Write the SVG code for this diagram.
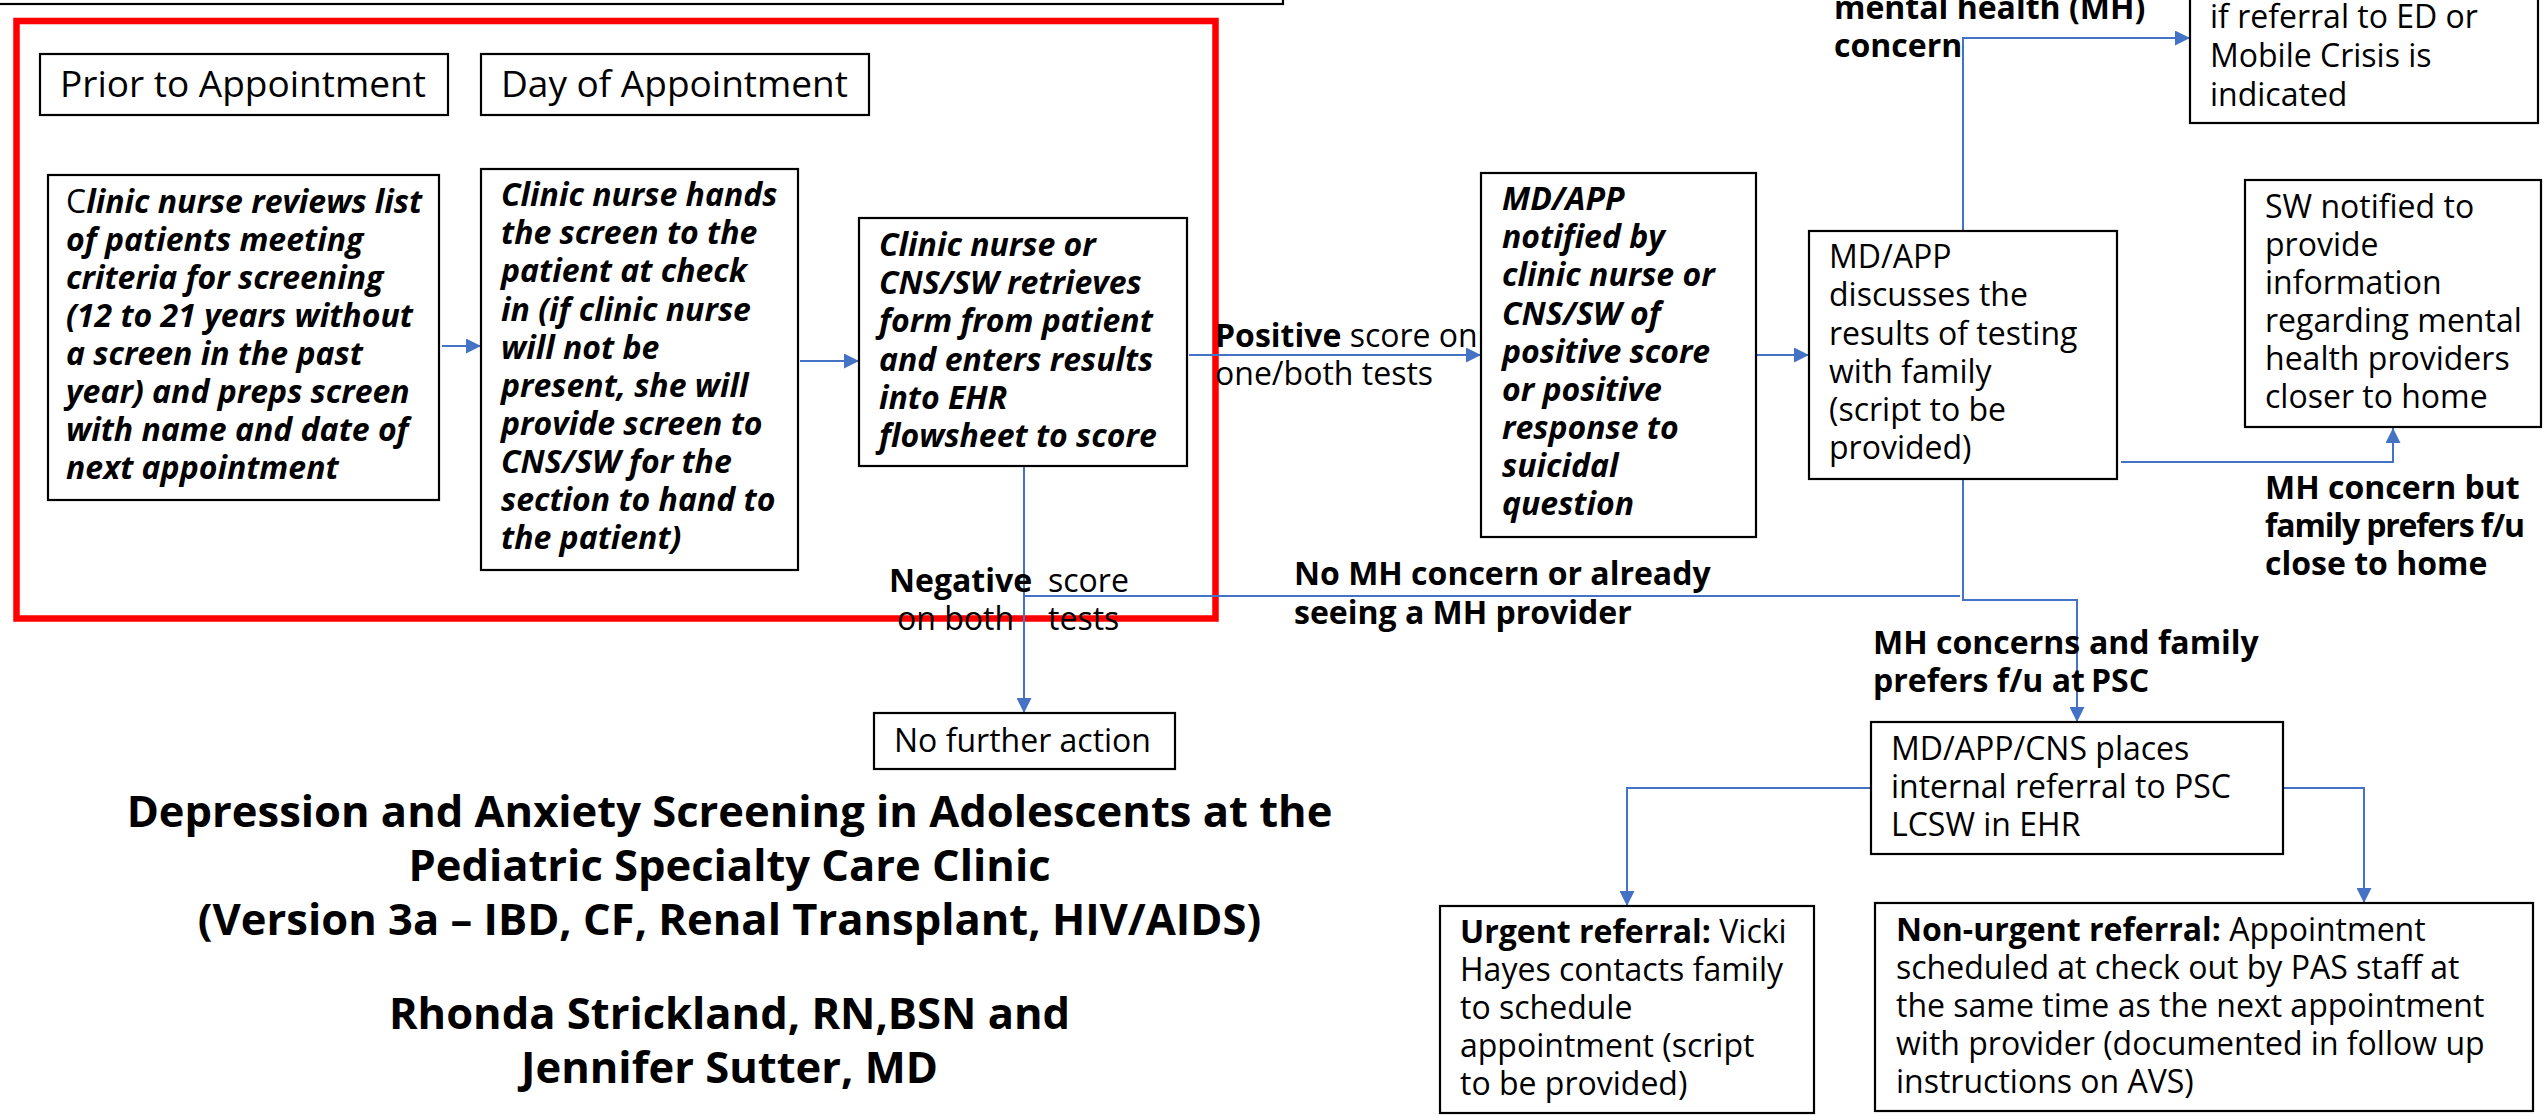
<svg xmlns="http://www.w3.org/2000/svg" width="2547" height="1116" viewBox="0 0 2547 1116">
  <style>
    .box { fill: #fff; stroke: #000; stroke-width: 2.2; }
    .conn { fill: none; stroke: #4472C4; stroke-width: 2; }
    .frame { fill: none; stroke: #FF0000; stroke-width: 6.5; }
    text { font-family: "Open Sans", "Noto Sans", sans-serif; font-size: 32px; fill: #000; }
    .bi { font-weight: bold; font-style: italic; }
    .b { font-weight: bold; }
    .r { font-weight: normal; font-style: normal; }
    .hdr { font-size: 37px; }
    .title { font-size: 43.5px; font-weight: bold; text-anchor: middle; }
  </style>
  <defs>
    <marker id="arrow" markerUnits="userSpaceOnUse" markerWidth="15" markerHeight="15" viewBox="0 0 15 15" refX="15" refY="7.5" orient="auto">
      <path d="M0,0 L15,7.5 L0,15 z" fill="#4472C4"/>
    </marker>
  </defs>

  <rect x="0" y="0" width="2547" height="1116" fill="#fff"/>

  <!-- box running off the top edge -->
  <rect class="box" x="-10" y="-60" width="1293" height="64"/>

  <!-- red outline around the pre-visit steps -->
  <rect class="frame" x="16.5" y="21" width="1199" height="597.5"/>

  <!-- connectors -->
  <g id="connectors">
    <path class="conn" d="M442,346 H481" marker-end="url(#arrow)"/>
    <path class="conn" d="M800,361 H859" marker-end="url(#arrow)"/>
    <path class="conn" d="M1189,355 H1481" marker-end="url(#arrow)"/>
    <path class="conn" d="M1756,355 H1809" marker-end="url(#arrow)"/>
    <path class="conn" d="M1963,231 V38 H2190" marker-end="url(#arrow)"/>
    <path class="conn" d="M2121,462 H2393 V428" marker-end="url(#arrow)"/>
    <path class="conn" d="M1024,466 V713" marker-end="url(#arrow)"/>
    <path class="conn" d="M1960,596 H1024"/>
    <path class="conn" d="M1963,479 V600 H2077 V722" marker-end="url(#arrow)"/>
    <path class="conn" d="M1871,788 H1627 V906" marker-end="url(#arrow)"/>
    <path class="conn" d="M2283,788 H2364 V903" marker-end="url(#arrow)"/>
  </g>

  <!-- connector labels -->
  <g id="labels">
    <text x="1215" y="347"><tspan class="b">Positive</tspan> score on</text>
    <text x="1215" y="385">one/both tests</text>
    <text class="b" x="1834" y="19">mental health (MH)</text>
    <text class="b" x="1834" y="57">concern</text>
    <text class="b" x="2265" y="499">MH concern but</text>
    <text class="b" x="2265" y="537" textLength="260" lengthAdjust="spacing">family prefers f/u</text>
    <text class="b" x="2265" y="575">close to home</text>
    <text class="b" x="889" y="592">Negative</text>
    <text x="1048" y="592">score</text>
    <text x="897" y="630">on both</text>
    <text x="1048" y="630">tests</text>
    <text class="b" x="1294" y="585">No MH concern or already</text>
    <text class="b" x="1294" y="624">seeing a MH provider</text>
    <text class="b" x="1873" y="654">MH concerns</text>
    <text class="b" x="2089" y="654">and family</text>
    <text class="b" x="1873" y="692">prefers f/u at</text>
    <text class="b" x="2091" y="692">PSC</text>
  </g>

  <g id="prior-header">
    <rect class="box" x="40" y="54" width="408" height="61"/>
    <text class="hdr" x="60" y="97">Prior to Appointment</text>
  </g>

  <g id="day-header">
    <rect class="box" x="481" y="54" width="388" height="61"/>
    <text class="hdr" x="501" y="97">Day of Appointment</text>
  </g>

  <g id="review-list">
    <rect class="box" x="48" y="175" width="391" height="325"/>
    <text class="bi" x="66" y="213"><tspan class="r">C</tspan>linic nurse reviews list</text>
    <text class="bi" x="66" y="251">of patients meeting</text>
    <text class="bi" x="66" y="289">criteria for screening</text>
    <text class="bi" x="66" y="327">(12 to 21 years without</text>
    <text class="bi" x="66" y="365">a screen in the past</text>
    <text class="bi" x="66" y="403">year) and preps screen</text>
    <text class="bi" x="66" y="441">with name and date of</text>
    <text class="bi" x="66" y="479">next appointment</text>
  </g>

  <g id="hand-screen">
    <rect class="box" x="481" y="169" width="317" height="401"/>
    <text class="bi" x="501" y="206">Clinic nurse hands</text>
    <text class="bi" x="501" y="244">the screen to the</text>
    <text class="bi" x="501" y="282">patient at check</text>
    <text class="bi" x="501" y="320.5">in (if clinic nurse</text>
    <text class="bi" x="501" y="358.5">will not be</text>
    <text class="bi" x="501" y="397">present, she will</text>
    <text class="bi" x="501" y="435">provide screen to</text>
    <text class="bi" x="501" y="473">CNS/SW for the</text>
    <text class="bi" x="501" y="511">section to hand to</text>
    <text class="bi" x="501" y="549">the patient)</text>
  </g>

  <g id="retrieve-form">
    <rect class="box" x="859" y="218" width="328" height="248"/>
    <text class="bi" x="879" y="256">Clinic nurse or</text>
    <text class="bi" x="879" y="294">CNS/SW retrieves</text>
    <text class="bi" x="879" y="332">form from patient</text>
    <text class="bi" x="879" y="370.5">and enters results</text>
    <text class="bi" x="879" y="409">into EHR</text>
    <text class="bi" x="879" y="447">flowsheet to score</text>
  </g>

  <g id="md-notified">
    <rect class="box" x="1481" y="173" width="275" height="364"/>
    <text class="bi" x="1502" y="210">MD/APP</text>
    <text class="bi" x="1502" y="248">notified by</text>
    <text class="bi" x="1502" y="286">clinic nurse or</text>
    <text class="bi" x="1502" y="324.5">CNS/SW of</text>
    <text class="bi" x="1502" y="362.5">positive score</text>
    <text class="bi" x="1502" y="401">or positive</text>
    <text class="bi" x="1502" y="439">response to</text>
    <text class="bi" x="1502" y="477">suicidal</text>
    <text class="bi" x="1502" y="515">question</text>
  </g>

  <g id="md-discusses">
    <rect class="box" x="1809" y="231" width="308" height="248"/>
    <text x="1829" y="268">MD/APP</text>
    <text x="1829" y="306">discusses the</text>
    <text x="1829" y="344.5">results of testing</text>
    <text x="1829" y="383">with family</text>
    <text x="1829" y="421">(script to be</text>
    <text x="1829" y="459">provided)</text>
  </g>

  <g id="ed-referral">
    <rect class="box" x="2190" y="-60" width="348" height="183"/>
    <text x="2210" y="28">if referral to ED or</text>
    <text x="2210" y="67">Mobile Crisis is</text>
    <text x="2210" y="106">indicated</text>
  </g>

  <g id="sw-notified">
    <rect class="box" x="2245" y="180" width="296" height="247"/>
    <text x="2265" y="218">SW notified to</text>
    <text x="2265" y="256">provide</text>
    <text x="2265" y="294">information</text>
    <text x="2265" y="332">regarding mental</text>
    <text x="2265" y="370">health providers</text>
    <text x="2265" y="408">closer to home</text>
  </g>

  <g id="no-further-action">
    <rect class="box" x="874" y="713" width="301" height="56"/>
    <text x="894" y="751.5">No further action</text>
  </g>

  <g id="internal-referral">
    <rect class="box" x="1871" y="722" width="412" height="132"/>
    <text x="1891" y="760">MD/APP/CNS places</text>
    <text x="1891" y="798">internal referral to PSC</text>
    <text x="1891" y="836">LCSW in EHR</text>
  </g>

  <g id="urgent-referral">
    <rect class="box" x="1440" y="906" width="374" height="207"/>
    <text x="1460" y="943"><tspan class="b">Urgent referral:</tspan> Vicki</text>
    <text x="1460" y="981">Hayes contacts family</text>
    <text x="1460" y="1019">to schedule</text>
    <text x="1460" y="1057">appointment (script</text>
    <text x="1460" y="1095">to be provided)</text>
  </g>

  <g id="non-urgent-referral">
    <rect class="box" x="1875" y="903" width="658" height="208"/>
    <text x="1896" y="941"><tspan class="b">Non-urgent referral:</tspan> Appointment</text>
    <text x="1896" y="979">scheduled at check out by PAS staff at</text>
    <text x="1896" y="1017">the same time as the next appointment</text>
    <text x="1896" y="1055">with provider (documented in follow up</text>
    <text x="1896" y="1093">instructions on AVS)</text>
  </g>

  <g id="title">
    <text class="title" x="729.5" y="827">Depression and Anxiety Screening in Adolescents at the</text>
    <text class="title" x="729.5" y="881">Pediatric Specialty Care Clinic</text>
    <text class="title" x="729.5" y="935">(Version 3a – IBD, CF, Renal Transplant, HIV/AIDS)</text>
    <text class="title" x="729.5" y="1029">Rhonda Strickland, RN,BSN and</text>
    <text class="title" x="729.5" y="1083">Jennifer Sutter, MD</text>
  </g>
</svg>
